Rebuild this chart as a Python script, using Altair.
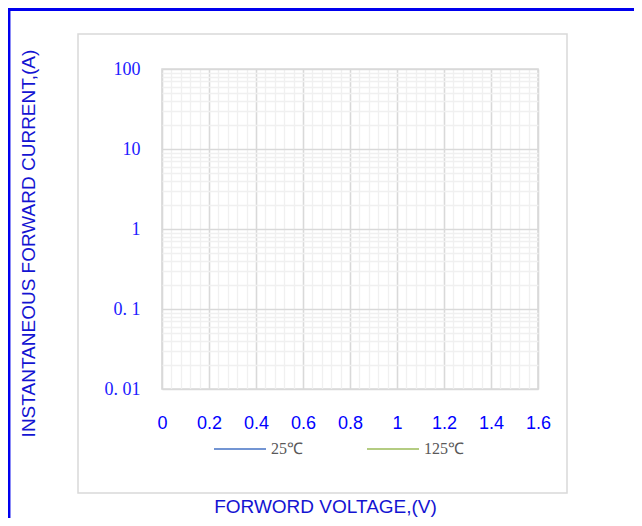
import altair as alt
import pandas as pd

# Series (the reference chart shows no plotted points, only the legend entries)
series_names = ["25℃", "125℃"]
series_colors = ["#4472C4", "#9BBB59"]
voltage = [None, None]
current = [None, None]

# Axis ticks
x_major = [0, 0.2, 0.4, 0.6, 0.8, 1, 1.2, 1.4, 1.6]
x_grid = [round(i * 0.04, 2) for i in range(41)]
y_major = [0.01, 0.1, 1, 10, 100]
y_major_labels = ["0. 01", "0. 1", "1", "10", "100"]
y_grid = [round(m * d, 4) for d in [0.01, 0.1, 1, 10] for m in range(1, 10)] + [100]

df = pd.DataFrame({"voltage": voltage, "current": current, "series": series_names})

W, H = 376, 320
BLUE = "#0000FF"
TITLE_BLUE = "#1414D2"

ylabel_expr = " : ".join(
    f"abs(datum.value - {v}) < {v} * 0.001 ? '{t}'" for v, t in zip(y_major, y_major_labels)
) + " : ''"
xlabel_expr = "abs(datum.value*5 - round(datum.value*5)) < 0.001 ? toString(round(datum.value*10)/10) : ''"

x_axis = alt.Axis(
    values=x_grid,
    title="FORWORD VOLTAGE,(V)",
    titleFont="Liberation Sans", titleFontSize=19, titleFontWeight="normal", titleColor=TITLE_BLUE,
    titleX=163, titleY=117, titleBaseline="middle", titleAlign="center",
    labelExpr=xlabel_expr, labelFont="Liberation Sans", labelFontSize=18, labelColor=BLUE,
    labelPadding=34, labelBaseline="middle", labelOverlap=False, labelFlush=False,
    ticks=False, tickSize=0, domain=False,
    grid=True,
    gridColor={"condition": {"test": "abs(datum.value*5 - round(datum.value*5)) < 0.001", "value": "#d9d9d9"}, "value": "#f0f0f0"},
    gridWidth={"condition": {"test": "abs(datum.value*5 - round(datum.value*5)) < 0.001", "value": 1.6}, "value": 1.3},
)
y_axis = alt.Axis(
    values=y_grid,
    title="INSTANTANEOUS FORWARD CURRENT,(A)",
    titleFont="Liberation Sans", titleFontSize=19, titleFontWeight="normal", titleColor=TITLE_BLUE,
    titleX=-134, titleY=174, titleBaseline="middle", titleAlign="center", titleAngle=270,
    labelExpr=ylabel_expr, labelFont="Liberation Serif", labelFontSize=18, labelColor="#2020FF",
    labelPadding=22, labelOverlap=False, labelFlush=False,
    ticks=False, tickSize=0, domain=False,
    grid=True,
    gridColor={"condition": {"test": "abs(log(datum.value)/LN10 - round(log(datum.value)/LN10)) < 0.001", "value": "#d9d9d9"}, "value": "#f0f0f0"},
    gridWidth={"condition": {"test": "abs(log(datum.value)/LN10 - round(log(datum.value)/LN10)) < 0.001", "value": 1.6}, "value": 1.3},
)

lines = alt.Chart(df).mark_line(strokeWidth=1.5).encode(
    x=alt.X("voltage:Q", scale=alt.Scale(domain=[0, 1.6], nice=False), axis=x_axis),
    y=alt.Y("current:Q", scale=alt.Scale(type="log", domain=[0.01, 100], nice=False), axis=y_axis),
    color=alt.Color(
        "series:N",
        scale=alt.Scale(domain=series_names, range=series_colors),
        legend=alt.Legend(
            title=None, orient="none", legendX=51, legendY=353, direction="horizontal",
            symbolType="stroke", symbolSize=2704, symbolStrokeWidth=1.5,
            labelFont="Liberation Serif", labelFontSize=16, labelColor="#595959",
            labelOffset=4, columnPadding=61, padding=0,
        ),
    ),
)

one = alt.Data(values=[{"k": 1}])
outer_box = alt.Chart(one).mark_rect(fillOpacity=0, stroke="#d9d9d9", strokeWidth=1.5).encode(
    x=alt.value(-84), x2=alt.value(405), y=alt.value(-35), y2=alt.value(424)
)
blue_top = alt.Chart(one).mark_rule(color="#0000EE", strokeWidth=3).encode(
    x=alt.value(-154), x2=alt.value(472), y=alt.value(-59.5)
)
blue_left = alt.Chart(one).mark_rule(color="#0000EE", strokeWidth=2.5).encode(
    x=alt.value(-152.8), y=alt.value(-61), y2=alt.value(449)
)

chart = alt.layer(outer_box, blue_top, blue_left, lines).properties(
    width=W, height=H,
    padding={"left": 154, "top": 61, "right": 96, "bottom": 129},
    autosize="none",
    background="white",
).configure_view(stroke="#d9d9d9", strokeWidth=1.6)

chart.save("out.html", embed_options={"renderer": "svg", "actions": False})
